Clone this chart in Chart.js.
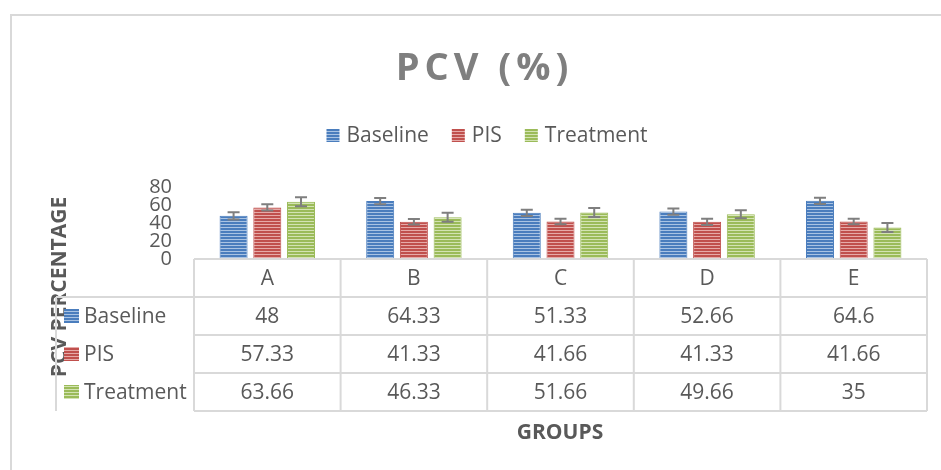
<!DOCTYPE html>
<html>
<head>
<meta charset="utf-8">
<script src="https://cdn.jsdelivr.net/npm/chart.js@4"></script>
<style>
  html, body { margin:0; padding:0; background:#fff; }
  #wrap { position:relative; width:941px; height:470px; }
</style>
</head>
<body>
<div id="wrap"><canvas id="pcv" width="941" height="470"></canvas></div>
<script>
// ─── Data ────────────────────────────────────────────────────────────────────
const groups       = ['A', 'B', 'C', 'D', 'E'];
const baseline     = [48, 64.33, 51.33, 52.66, 64.6];
const pis          = [57.33, 41.33, 41.66, 41.33, 41.66];
const treatment    = [63.66, 46.33, 51.66, 49.66, 35];
const baselineErr  = [4, 3.5, 3.5, 3.5, 3.5];
const pisErr       = [3.5, 3, 3, 3.5, 3];
const treatmentErr = [5, 5, 5, 4.5, 5];
const yTicks       = [0, 20, 40, 60, 80];

// ─── Style ───────────────────────────────────────────────────────────────────
const FONT = "'Open Sans', 'Noto Sans', sans-serif";
const TXT  = '#595959';
const LINE = '#d9d9d9';
const COL  = {
  blue:  { dark:'#4a7dbd', light:'#a9c3e3' },
  red:   { dark:'#c0504d', light:'#e6aaa8' },
  green: { dark:'#9bbb59', light:'#d3e3b3' },
};

// striped fill like the Office bar style
function stripes(c) {
  const cv = document.createElement('canvas');
  cv.width = 4; cv.height = 3;
  const g = cv.getContext('2d');
  g.fillStyle = c.dark;  g.fillRect(0, 0, 4, 2);
  g.fillStyle = c.light; g.fillRect(0, 2, 4, 1);
  return g.createPattern(cv, 'repeat');
}

const errs = [baselineErr, pisErr, treatmentErr];

// ─── Plugins ─────────────────────────────────────────────────────────────────
const frame = {
  id:'frame',
  beforeDraw(chart) {
    const c = chart.ctx;
    c.save();
    c.strokeStyle = LINE; c.lineWidth = 2;
    c.beginPath(); c.moveTo(11, 470); c.lineTo(11, 15); c.lineTo(941, 15); c.stroke();

    // title with wide letter spacing
    c.font = `bold 38px ${FONT}`;
    c.fillStyle = '#7f7f7f';
    c.letterSpacing = '5px';
    c.textAlign = 'left'; c.textBaseline = 'middle';
    const t = 'PCV (%)';
    const tw = c.measureText(t).width - 5;
    c.fillText(t, 482 - tw / 2, 69);
    c.letterSpacing = '0px';

    // legend
    c.font = `21px ${FONT}`;
    const items = chart.data.datasets.map(d => ({ label:d.label, fill:d.backgroundColor }));
    const box = 13, gapIn = 7, gapOut = 23;
    let total = 0;
    items.forEach((it, i) => { it.w = c.measureText(it.label).width; total += box + gapIn + it.w + (i ? gapOut : 0); });
    let x = 487 - total / 2;
    items.forEach(it => {
      c.fillStyle = it.fill; c.fillRect(x, 129, box, box);
      c.fillStyle = TXT; c.fillText(it.label, x + box + gapIn, 136);
      x += box + gapIn + it.w + gapOut;
    });

    // axis titles
    c.font = `bold 21px ${FONT}`;
    c.textAlign = 'center';
    c.fillText('GROUPS', 560, 433);
    c.translate(60, 287); c.rotate(-Math.PI / 2);
    c.fillText('PCV PERCENTAGE', 0, 0);
    c.restore();
  },
  afterDatasetsDraw(chart) {
    const c = chart.ctx, y = chart.scales.y, xs = chart.scales.x;
    c.save();
    // error bars
    c.strokeStyle = '#7f7f7f'; c.lineWidth = 2;
    chart.data.datasets.forEach((ds, di) => {
      chart.getDatasetMeta(di).data.forEach((bar, i) => {
        const v = ds.data[i], e = errs[di][i];
        const top = y.getPixelForValue(v + e), bot = y.getPixelForValue(v - e);
        c.beginPath();
        c.moveTo(bar.x, top); c.lineTo(bar.x, bot);
        c.moveTo(bar.x - 6, top); c.lineTo(bar.x + 6, top);
        c.moveTo(bar.x - 6, bot); c.lineTo(bar.x + 6, bot);
        c.stroke();
      });
    });

    // data table
    const L = chart.chartArea.left, R = chart.chartArea.right, T = chart.chartArea.bottom;
    const colW = (R - L) / groups.length, rowH = 38, keyL = 56;
    c.strokeStyle = LINE; c.lineWidth = 2;
    c.beginPath();
    c.moveTo(L, T); c.lineTo(R, T);
    for (let r = 1; r <= 4; r++) { c.moveTo(r === 1 ? keyL : L, T + r * rowH); c.lineTo(R, T + r * rowH); }
    c.moveTo(keyL, T + rowH); c.lineTo(keyL, T + 4 * rowH);
    for (let k = 0; k <= groups.length; k++) { c.moveTo(L + k * colW, T); c.lineTo(L + k * colW, T + 4 * rowH); }
    c.stroke();

    c.font = `21px ${FONT}`; c.fillStyle = TXT;
    c.textAlign = 'center'; c.textBaseline = 'middle';
    groups.forEach((g, i) => c.fillText(g, xs.getPixelForValue(i), T + rowH / 2 + 1));
    chart.data.datasets.forEach((ds, di) => {
      const cy = T + (di + 1.5) * rowH + 1;
      c.fillStyle = ds.backgroundColor; c.fillRect(keyL + 8, cy - 8, 15, 14);
      c.fillStyle = TXT; c.textAlign = 'left';
      c.fillText(ds.label, keyL + 28, cy);
      c.textAlign = 'center';
      ds.data.forEach((v, i) => c.fillText(String(v), xs.getPixelForValue(i), cy));
    });
    c.restore();
  }
};

// ─── Chart ───────────────────────────────────────────────────────────────────
const mk = (label, data, col) => ({
  label, data, backgroundColor: stripes(col), borderColor: col.dark, borderWidth: 1,
  categoryPercentage: 0.69, barPercentage: 0.83,
});

new Chart(document.getElementById('pcv'), {
  type: 'bar',
  data: { labels: groups, datasets: [
    mk('Baseline',  baseline,  COL.blue),
    mk('PIS',       pis,       COL.red),
    mk('Treatment', treatment, COL.green),
  ]},
  options: {
    responsive:false, animation:false,
    layout:{ padding:{ left:134, right:14, top:187, bottom:211 } },
    plugins:{ legend:{display:false}, title:{display:false}, tooltip:{enabled:false} },
    scales:{
      x:{ display:false },
      y:{
        min:yTicks[0], max:yTicks[yTicks.length - 1],
        afterFit: s => { s.width = 60; },
        afterBuildTicks: s => { s.ticks = yTicks.map(v => ({ value:v })); },
        grid:{ display:false, drawTicks:false }, border:{ display:false },
        ticks:{ padding:22, color:TXT, autoSkip:false, font:{ family:FONT, size:20 } },
      },
    },
  },
  plugins:[frame],
});
</script>
</body>
</html>
